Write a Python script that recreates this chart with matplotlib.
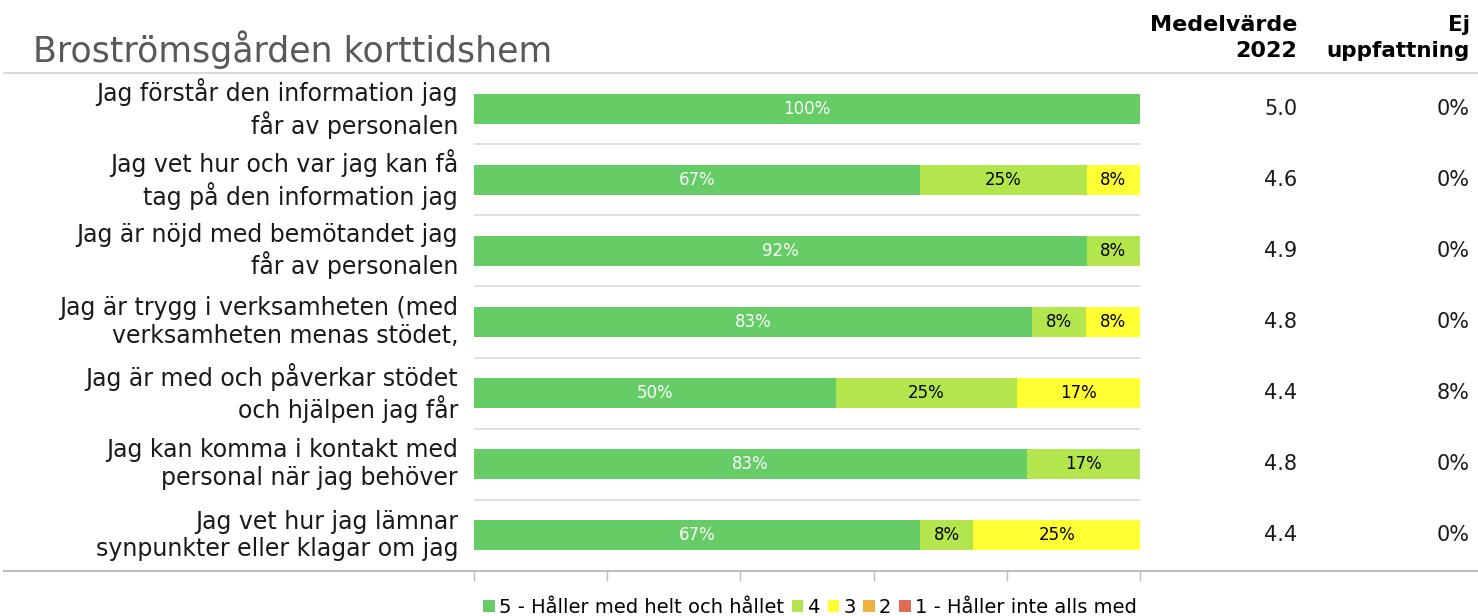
import numpy as np
import matplotlib
matplotlib.use("Agg")
from matplotlib import pyplot as plt
from matplotlib.lines import Line2D
from matplotlib.patches import Patch

plt.rcParams['font.family'] = ['DejaVu Sans']

title = "Broströmsgården korttidshem"
questions = [
    "Jag förstår den information jag\nfår av personalen",
    "Jag vet hur och var jag kan få\ntag på den information jag",
    "Jag är nöjd med bemötandet jag\nfår av personalen",
    "Jag är trygg i verksamheten (med\nverksamheten menas stödet,",
    "Jag är med och påverkar stödet\noch hjälpen jag får",
    "Jag kan komma i kontakt med\npersonal när jag behöver",
    "Jag vet hur jag lämnar\nsynpunkter eller klagar om jag",
]
p5 = [100, 67, 92, 83, 50, 83, 67]
p4 = [0, 25, 8, 8, 25, 17, 8]
p3 = [0, 8, 0, 8, 17, 0, 25]
p2 = [0, 0, 0, 0, 0, 0, 0]
p1 = [0, 0, 0, 0, 0, 0, 0]
medel = [5.0, 4.6, 4.9, 4.8, 4.4, 4.8, 4.4]
ej = [0, 0, 0, 0, 8, 0, 0]

series = [p5, p4, p3, p2, p1]
names = ["5 - Håller med helt och hållet", "4", "3", "2", "1 - Håller inte alls med"]
colors = ["#66CD66", "#B3E64C", "#FFFF33", "#F0B040", "#E06A52"]
txt_colors = ["white", "black", "black", "black", "white"]

fig = plt.figure(figsize=(14.78, 6.16), dpi=100)
ax = fig.add_axes([0.3207, 0.0731, 0.4506, 0.8084])

data = np.array(series, dtype=float)
totals = data.sum(axis=0)
y = np.arange(len(questions))
left = np.zeros(len(questions))
for k in range(len(series)):
    w = data[k] / totals
    ax.barh(y, w, left=left, height=0.42, color=colors[k], edgecolor="none", zorder=2)
    for i in range(len(questions)):
        if data[k, i] > 0:
            ax.text(left[i] + w[i] / 2, y[i], f"{data[k, i]:.0f}%", ha="center", va="center",
                    fontsize=12, color=txt_colors[k], zorder=3)
    left += w

ax.set_xlim(0, 1)
ax.set_ylim(6.5, -0.5)
for s in ax.spines.values():
    s.set_visible(False)
ax.set_yticks([])
ax.set_xticks(np.linspace(0, 1, 6))
ax.set_xticklabels([])
ax.tick_params(axis="x", length=7, color="#BFBFBF", width=1)
for b in np.arange(0.5, 6, 1):
    ax.axhline(b, color="#D9D9D9", lw=1.2, zorder=1)

for i, q in enumerate(questions):
    ax.text(-0.024, y[i], q, ha="right", va="center", fontsize=17, color="#1a1a1a",
            linespacing=1.2)
    ax.text(1.236, y[i], f"{medel[i]:.1f}", ha="right", va="center", fontsize=15, color="#1a1a1a")
    ax.text(1.495, y[i], f"{ej[i]:.0f}%", ha="right", va="center", fontsize=15, color="#1a1a1a")

fig.add_artist(Line2D([0.003, 1], [0.8815, 0.8815], color="#D9D9D9", lw=1.5))
fig.add_artist(Line2D([0.003, 1], [0.0731, 0.0731], color="#BFBFBF", lw=1.5))

fig.text(0.0223, 0.919, title, ha="left", va="center", fontsize=25, color="#595959")
fig.text(0.8776, 0.938, "Medelvärde\n2022", ha="right", va="center", fontsize=16,
         fontweight="bold", multialignment="right", linespacing=1.35)
fig.text(0.9946, 0.938, "Ej\nuppfattning", ha="right", va="center", fontsize=15.5,
         fontweight="bold", multialignment="right", linespacing=1.35)

handles = [Patch(facecolor=c, edgecolor="none") for c in colors]
fig.legend(handles, names, loc="center", bbox_to_anchor=(0.548, 0.014), ncol=5,
           frameon=False, fontsize=14, handlelength=0.6, handleheight=0.6,
           handletextpad=0.2, columnspacing=0.4)

fig.savefig("out.png", dpi=100)
